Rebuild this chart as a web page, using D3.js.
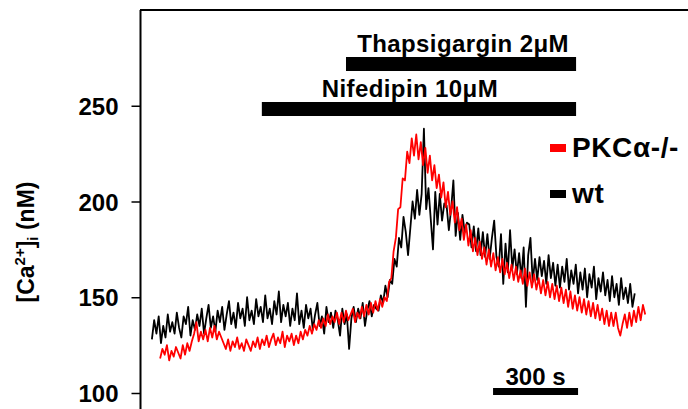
<!DOCTYPE html>
<html>
<head>
<meta charset="utf-8">
<script src="https://cdn.jsdelivr.net/npm/d3@7/dist/d3.min.js"></script>
<style>
  html, body { margin: 0; padding: 0; background: #fff; }
  svg text { font-family: "Liberation Sans", Arial, Helvetica, sans-serif; font-weight: bold; }
</style>
</head>
<body>
<svg id="chart" width="688" height="409"></svg>
<script>
// Cytosolic Ca2+ recordings, one sample every 8 s
const sampleStep = 8;          // s
const wtStart = 42;            // s, first wt sample
const pkcStart = 71;           // s, first PKCα-/- sample

const wtTrace = [
  128,138,131,140,126,135,129,141,132,137,
  131,142,134,129,140,136,145,130,138,133,
  141,135,144,131,139,146,134,140,132,143,
  137,145,133,141,148,136,142,134,147,139,
  144,135,150,138,143,136,149,140,145,137,
  151,139,144,136,148,141,153,137,146,140,
  147,135,144,138,152,136,143,134,146,139,
  144,133,141,147,135,140,131,145,137,142,
  134,143,138,130,144,136,141,123,139,145,
  137,144,139,147,135,143,148,140,146,144,
  143,151,147,156,150,159,157,170,166,181,
  176,192,184,172,186,200,191,206,193,204,
  238,196,207,191,175,205,188,204,190,199,
  198,185,196,211,182,194,180,193,184,189,
  188,176,187,174,186,172,184,171,183,170,
  181,190,171,166,183,157,178,163,185,165,
  175,162,173,160,176,145,172,181,158,170,
  159,171,161,169,157,172,160,168,156,167,
  155,166,158,170,154,164,157,167,152,163,
  154,165,150,162,155,166,149,160,153,163,
  151,159,148,161,150,157,146,160,149,155,
  147,157,145,152
];

const pkcTrace = [
  118,123,120,125,117,122,119,124,121,118,
  125,120,126,122,127,131,137,127,132,128,
  133,127,134,129,135,128,132,129,126,123,
  128,122,127,124,129,123,126,122,128,125,
  122,127,124,129,123,128,125,130,124,128,
  131,125,129,126,132,124,130,127,131,125,
  130,126,132,128,133,130,135,131,136,133,
  138,134,139,135,141,136,140,137,142,136,
  142,137,143,138,141,144,137,142,139,145,
  140,146,141,147,142,148,143,149,145,150,
  148,158,160,174,181,196,197,212,211,226,
  220,233,224,235,222,231,219,228,215,224,
  211,219,207,214,202,210,197,205,193,200,
  189,197,185,191,180,188,177,185,174,181,
  172,179,170,176,167,175,166,173,164,171,
  163,170,162,168,160,167,159,166,158,164,
  157,165,156,163,155,162,154,160,152,159,
  151,158,150,157,149,156,148,155,147,154,
  145,153,144,151,143,150,142,149,141,148,
  140,147,139,146,138,144,136,143,135,142,
  135,142,134,130,136,141,134,142,135,143,
  137,145,138,146,141
];

// Drug applications (s)
const treatments = ["Nifedipin 10μM", "Thapsigargin 2μM"];
const treatmentStart = [430, 727];
const treatmentEnd = [1539, 1539];

const yTicks = [100, 150, 200, 250];
const seriesNames = ["PKCα-/-", "wt"];
const seriesColors = ["#ff0000", "#000000"];
const scaleBarSeconds = 300;
const scaleBarStart = 1246;

const svg = d3.select("#chart");
const x = d3.scaleLinear().domain([0, 1934]).range([140, 688]);
const y = d3.scaleLinear().domain([100, 300]).range([393, 10]);

// axis frame: left spine and top edge
svg.append("line").attr("x1", 140.5).attr("x2", 140.5)
  .attr("y1", y(300)).attr("y2", 409)
  .attr("stroke", "#000").attr("stroke-width", 2);
svg.append("line").attr("x1", 140).attr("x2", 688)
  .attr("y1", y(300)).attr("y2", y(300))
  .attr("stroke", "#000").attr("stroke-width", 2);

const yAxis = svg.append("g")
  .attr("transform", "translate(140.5,0)")
  .call(d3.axisLeft(y).tickValues(yTicks).tickSize(9).tickPadding(13));
yAxis.select(".domain").remove();
yAxis.selectAll(".tick line").attr("stroke", "#000").attr("stroke-width", 1.5);
yAxis.selectAll(".tick text")
  .attr("font-size", 24)
  .attr("font-family", "Liberation Sans, Arial, sans-serif")
  .attr("font-weight", "bold")
  .attr("fill", "#000")
  .attr("dy", "0.36em");

// y label
const yl = svg.append("text")
  .attr("transform", "translate(34,242) rotate(-90)")
  .attr("text-anchor", "middle")
  .attr("font-size", 23);
yl.append("tspan").text("[Ca");
yl.append("tspan").attr("font-size", 15).attr("dy", -9).text("2+");
yl.append("tspan").attr("dy", 9).text("]");
yl.append("tspan").attr("font-size", 15).attr("dy", 4).text("i");
yl.append("tspan").attr("dy", -4).text(" (nM)");

// traces
const line = (start) => d3.line()
  .x((d, i) => x(start + i * sampleStep))
  .y(d => y(d));

svg.append("path").datum(wtTrace)
  .attr("d", line(wtStart))
  .attr("fill", "none").attr("stroke", seriesColors[1])
  .attr("stroke-width", 1.8).attr("stroke-linejoin", "round");
svg.append("path").datum(pkcTrace)
  .attr("d", line(pkcStart))
  .attr("fill", "none").attr("stroke", seriesColors[0])
  .attr("stroke-width", 1.8).attr("stroke-linejoin", "round");

// treatment bars
const barLevel = [248.3, 271.8];   // bar centres on the y scale
const labelShift = [-9, 2];
treatments.forEach((name, k) => {
  const x0 = x(treatmentStart[k]), x1 = x(treatmentEnd[k]);
  const yc = y(barLevel[k]);
  svg.append("rect").attr("x", x0).attr("y", yc - 7)
    .attr("width", x1 - x0).attr("height", 14).attr("fill", "#000");
  svg.append("text")
    .attr("x", (x0 + x1) / 2 + labelShift[k]).attr("y", yc - 12)
    .attr("text-anchor", "middle").attr("font-size", 24)
    .attr("letter-spacing", 0.4)
    .text(name);
});

// legend
seriesNames.forEach((name, k) => {
  const ly = 148 + k * 46;
  svg.append("rect").attr("x", 550).attr("y", ly - 4)
    .attr("width", 16).attr("height", 8).attr("fill", seriesColors[k]);
  svg.append("text").attr("x", 572).attr("y", ly + 9)
    .attr("font-size", 28).attr("letter-spacing", 0.6).text(name);
});

// time scale bar
const sb0 = x(scaleBarStart), sb1 = x(scaleBarStart + scaleBarSeconds);
svg.append("rect").attr("x", sb0).attr("y", 388)
  .attr("width", sb1 - sb0).attr("height", 7).attr("fill", "#000");
svg.append("text").attr("x", (sb0 + sb1) / 2).attr("y", 385)
  .attr("text-anchor", "middle").attr("font-size", 24)
  .text(scaleBarSeconds + " s");
</script>
</body>
</html>
